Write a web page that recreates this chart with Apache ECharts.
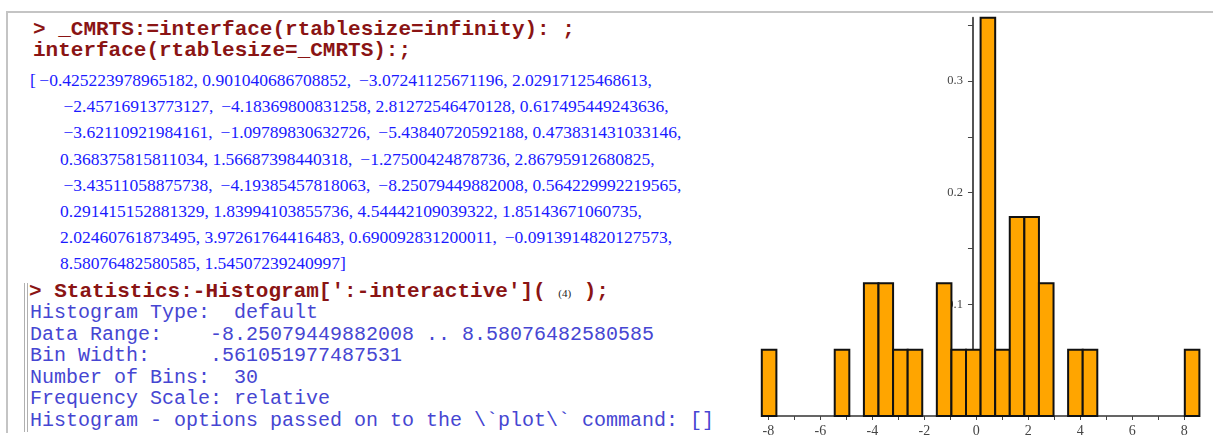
<!DOCTYPE html>
<html>
<head>
<meta charset="utf-8">
<script src="https://cdn.jsdelivr.net/npm/echarts@6/dist/echarts.min.js"></script>
<style>
  html, body { margin: 0; padding: 0; background: #fff; }
  #page { position: relative; width: 1213px; height: 444px; overflow: hidden; }
  .ln { position: absolute; white-space: pre; line-height: 24px; height: 24px; }
  .cmd { font-family: "Liberation Mono", monospace; font-weight: bold; font-size: 21px; color: #8a1414; }
  .out { font-family: "Liberation Serif", serif; font-size: 17.5px; color: #1a1aff; }
  .txt { font-family: "Liberation Mono", monospace; font-size: 20px; color: #4646d2; }
  .lbl { font-family: "Liberation Serif", serif; font-size: 11px; font-weight: normal; color: #222; }
  #chart { position: absolute; left: 740px; top: 0; width: 473px; height: 444px; }
</style>
</head>
<body>
<div id="page">
  <div style="position:absolute;left:7px;top:11px;width:1206px;height:2px;background:#c4c4c4"></div>
  <div style="position:absolute;left:6px;top:11px;width:2px;height:422px;background:#c4c4c4"></div>
  <div style="position:absolute;left:24px;top:283px;width:1px;height:149px;background:#b0b0b0"></div>
  <div style="position:absolute;left:27px;top:283px;width:1px;height:149px;background:#b0b0b0"></div>

  <div class="ln cmd" style="left:33px;top:18px">&gt; _CMRTS:=interface(rtablesize=infinity): ;</div>
  <div class="ln cmd" style="left:33px;top:39px">interface(rtablesize=_CMRTS):;</div>
  <div id="values"></div>

  <div class="ln cmd" style="left:29px;top:280px">&gt; Statistics:-Histogram[':-interactive']( <span class="lbl">(4)</span> );</div>
  <div id="info"></div>
  <div id="chart"></div>
</div>
<script>
// sample shown in the worksheet output
var sampleValues = [
  -0.425223978965182, 0.901040686708852, -3.07241125671196, 2.02917125468613,
  -2.45716913773127, -4.18369800831258, 2.81272546470128, 0.617495449243636,
  -3.62110921984161, -1.09789830632726, -5.43840720592188, 0.473831431033146,
  0.368375815811034, 1.56687398440318, -1.27500424878736, 2.86795912680825,
  -3.43511058875738, -4.19385457818063, -8.25079449882008, 0.564229992219565,
  0.291415152881329, 1.83994103855736, 4.54442109039322, 1.85143671060735,
  2.02460761873495, 3.97261764416483, 0.690092831200011, -0.0913914820127573,
  8.58076482580585, 1.54507239240997
];
var perLine = 4;

// histogram summary lines
var infoLines = [
  'Histogram Type:  default',
  'Data Range:    -8.25079449882008 .. 8.58076482580585',
  'Bin Width:     .561051977487531',
  'Number of Bins:  30',
  'Frequency Scale: relative',
  'Histogram - options passed on to the \\`plot\\` command: []'
];

// histogram bins (relative frequency)
var binStart = -8.25079449882008;
var binWidth = 0.561051977487531;
var binHeights = [
  0.0594, 0, 0, 0, 0, 0.0594, 0, 0.1188, 0.1188, 0.0594,
  0.0594, 0, 0.1188, 0.0594, 0.0594, 0.3565, 0.0594, 0.1782, 0.1782, 0.1188,
  0, 0.0594, 0.0594, 0, 0, 0, 0, 0, 0, 0.0594
];
var xTicks = [-8, -7, -6, -5, -4, -3, -2, -1, 0, 1, 2, 3, 4, 5, 6, 7, 8];
var xLabels = [-8, -6, -4, -2, 0, 2, 4, 6, 8];
var yTicks = [0.05, 0.1, 0.15, 0.2, 0.25, 0.3, 0.35];
var yLabels = [0.1, 0.2, 0.3];

// output lines
function fmt(v) {
  var s = String(v);
  return s.charAt(0) === '-' ? '\u2009\u2212' + s.slice(1) : s;
}
var valuesHtml = '';
for (var i = 0; i < sampleValues.length; i += perLine) {
  var row = sampleValues.slice(i, i + perLine).map(fmt).join(', ');
  var first = i === 0;
  var last = i + perLine >= sampleValues.length;
  var text = (first ? '[' : '') + row + (last ? ']' : ',');
  var lineTop = 68 + (i / perLine) * 26.2;
  valuesHtml += '<div class="ln out" style="left:' + (first ? 30 : 60) + 'px;top:' + lineTop.toFixed(1) + 'px">' + text + '</div>';
}
document.getElementById('values').innerHTML = valuesHtml;

infoLines.forEach(function (t, k) {
  var div = document.createElement('div');
  div.className = 'ln txt';
  div.style.left = '30px';
  div.style.top = (301 + k * 21.6).toFixed(1) + 'px';
  div.textContent = t;
  document.getElementById('info').appendChild(div);
});

var binData = binHeights.map(function (h, k) {
  return [binStart + k * binWidth, binStart + (k + 1) * binWidth, h];
});

var chart = echarts.init(document.getElementById('chart'));
chart.setOption({
  animation: false,
  grid: { left: 21.8, right: 13.6, top: 17.8, bottom: 28 },
  xAxis: {
    type: 'value',
    min: binStart,
    max: binStart + binHeights.length * binWidth,
    axisLine: { onZero: true, lineStyle: { color: '#333', width: 1.5 } },
    axisTick: { customValues: xTicks, length: 4, lineStyle: { color: '#444' } },
    axisLabel: {
      customValues: xLabels, margin: 8,
      fontFamily: 'Liberation Serif', fontSize: 14, color: '#444'
    },
    splitLine: { show: false }
  },
  yAxis: {
    type: 'value',
    min: 0,
    max: 0.3565,
    axisLine: { show: true, onZero: false, lineStyle: { color: '#555', width: 2 } },
    axisTick: { show: true, customValues: yTicks, length: 5, lineStyle: { color: '#444' } },
    axisLabel: {
      customValues: yLabels, margin: 10,
      fontFamily: 'Liberation Serif', fontSize: 12.5, color: '#444'
    },
    splitLine: { show: false }
  },
  series: [{
    type: 'custom',
    data: binData,
    encode: { x: [0, 1], y: 2 },
    renderItem: function (params, api) {
      var h = api.value(2);
      if (!h) return;
      var p0 = api.coord([api.value(0), h]);
      var p1 = api.coord([api.value(1), 0]);
      return {
        type: 'rect',
        shape: { x: p0[0], y: p0[1], width: p1[0] - p0[0], height: p1[1] - p0[1] },
        style: { fill: '#ffa500', stroke: '#111', lineWidth: 2 }
      };
    }
  }]
});

// move the y axis (line, ticks and labels) to x = 0
var zeroPx = chart.convertToPixel({ xAxisIndex: 0 }, 0);
var leftPx = chart.convertToPixel({ xAxisIndex: 0 }, binStart);
chart.setOption({ yAxis: { offset: -(zeroPx - leftPx) } });
</script>
</body>
</html>
